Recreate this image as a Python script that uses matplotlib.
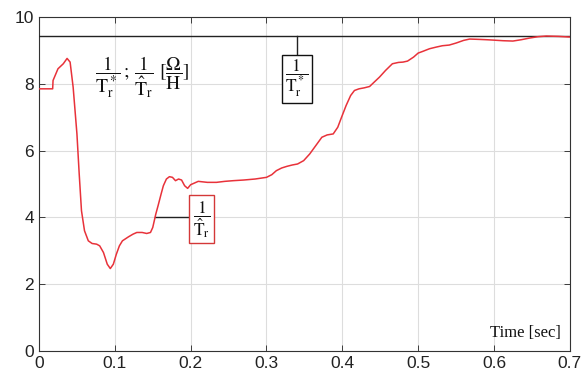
import matplotlib
matplotlib.use('agg')
import matplotlib.pyplot as plt

t_est = [0.0, 0.018, 0.0185, 0.025, 0.032, 0.037, 0.041, 0.045, 0.050, 0.053, 0.056,
         0.060, 0.065, 0.070, 0.076, 0.080, 0.085, 0.090, 0.094, 0.098, 0.102, 0.106,
         0.110, 0.118, 0.124, 0.129, 0.136, 0.142, 0.147, 0.150, 0.154, 0.157, 0.161,
         0.164, 0.168, 0.172, 0.176, 0.180, 0.184, 0.188, 0.192, 0.196, 0.200, 0.210,
         0.222, 0.234, 0.245, 0.256, 0.270, 0.285, 0.300, 0.307, 0.313, 0.320, 0.327,
         0.334, 0.341, 0.349, 0.357, 0.365, 0.373, 0.380, 0.388, 0.394, 0.399, 0.405,
         0.411, 0.416, 0.422, 0.429, 0.436, 0.442, 0.449, 0.457, 0.466, 0.474, 0.480,
         0.486, 0.494, 0.500, 0.506, 0.515, 0.524, 0.532, 0.541, 0.550, 0.560, 0.568,
         0.580, 0.590, 0.598, 0.612, 0.625, 0.636, 0.647, 0.658, 0.669, 0.685, 0.700]
y_est = [7.85, 7.85, 8.1, 8.45, 8.6, 8.76, 8.65, 7.9, 6.5, 5.3, 4.2,
         3.6, 3.3, 3.22, 3.2, 3.15, 2.95, 2.6, 2.47, 2.6, 2.9, 3.15,
         3.3, 3.42, 3.5, 3.55, 3.55, 3.52, 3.55, 3.7, 4.1, 4.35, 4.7,
         4.95, 5.15, 5.22, 5.2, 5.1, 5.15, 5.12, 4.95, 4.87, 4.98, 5.08,
         5.05, 5.05, 5.08, 5.1, 5.12, 5.15, 5.2, 5.28, 5.4, 5.48, 5.53,
         5.57, 5.6, 5.7, 5.9, 6.15, 6.4, 6.47, 6.5, 6.7, 7.0, 7.35,
         7.65, 7.8, 7.85, 7.88, 7.92, 8.05, 8.2, 8.4, 8.6, 8.64, 8.65,
         8.68, 8.8, 8.92, 8.97, 9.05, 9.1, 9.14, 9.16, 9.22, 9.3, 9.34,
         9.33, 9.32, 9.31, 9.29, 9.28, 9.32, 9.37, 9.41, 9.43, 9.42, 9.4]
ref_value = 9.43

plt.rcParams['font.family'] = ['Liberation Sans', 'DejaVu Sans']
plt.rcParams['mathtext.fontset'] = 'stix'

fig = plt.figure(figsize=(5.85, 3.82), dpi=100)
ax = fig.add_axes([0.0667, 0.081, 0.9073, 0.8745])

ax.axhline(ref_value, color='#222222', lw=1.0, zorder=3)
ax.plot(t_est, y_est, color='#e8323a', lw=1.1, zorder=4)

ax.set_xlim(0, 0.7)
ax.set_ylim(0, 10)
ax.set_xticks([0, 0.1, 0.2, 0.3, 0.4, 0.5, 0.6, 0.7])
ax.set_xticklabels(['0', '0.1', '0.2', '0.3', '0.4', '0.5', '0.6', '0.7'])
ax.set_yticks([0, 2, 4, 6, 8, 10])
ax.grid(True, color='#dddddd', lw=0.8)
ax.tick_params(direction='in', top=True, right=True, labelsize=12.5,
               colors='#222222', length=4, width=0.6)
for s in ax.spines.values():
    s.set_color('#333333')
    s.set_linewidth(0.8)

serif = 'Liberation Serif'

ax.text(0.074, 8.2, r'$\dfrac{1}{\mathrm{T_r^*}}\,;\,\dfrac{1}{\hat{\mathrm{T}}_\mathrm{r}}\ [\dfrac{\Omega}{\mathrm{H}}]$',
        fontsize=14, ha='left', va='center', color='#111111')

# annotation for reference value
ax.plot([0.34, 0.34], [ref_value, 8.9], color='#222222', lw=1.0, zorder=3)
ax.text(0.34, 8.15, r'$\dfrac{1}{\mathrm{T_r^*}}$', fontsize=12.5, ha='center', va='center',
        color='#111111', bbox=dict(boxstyle='square,pad=0.2', fc='white', ec='#111111', lw=1.0))

# annotation for estimate
ax.plot([0.153, 0.2], [4.0, 4.0], color='#222222', lw=1.0, zorder=3)
ax.text(0.203, 3.95, r'$\dfrac{1}{\hat{\mathrm{T}}_\mathrm{r}}$', fontsize=12.5, ha='left', va='center',
        color='#111111', bbox=dict(boxstyle='square,pad=0.2', fc='white', ec='#d43838', lw=1.0))

ax.text(0.688, 0.55, 'Time [sec]', family=serif, fontsize=12, ha='right', va='center', color='#111111')

fig.savefig('out.png', dpi=100)
